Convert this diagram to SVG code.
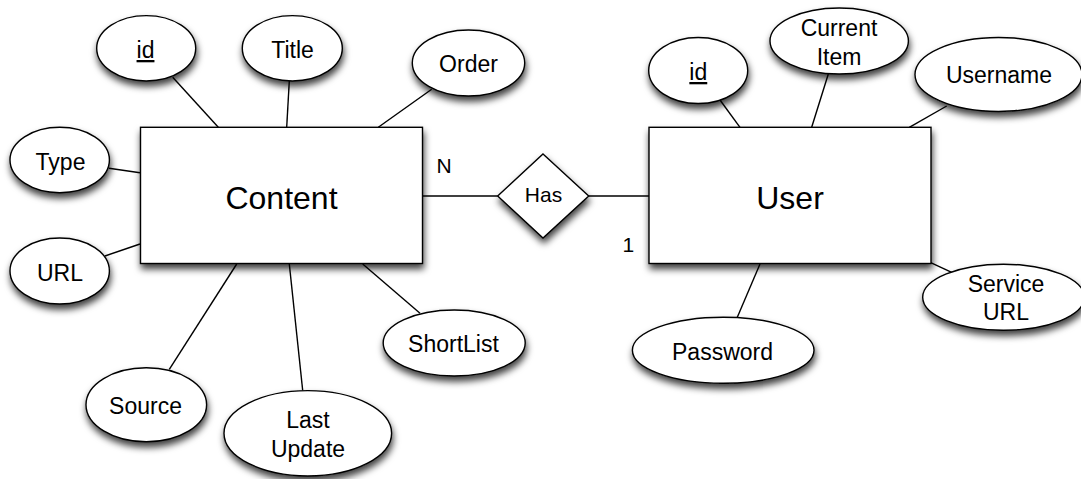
<svg xmlns="http://www.w3.org/2000/svg" width="1081" height="479" viewBox="0 0 1081 479">
<defs>
<filter id="sh" x="-20%" y="-20%" width="150%" height="170%">
<feDropShadow dx="1" dy="5" stdDeviation="3.6" flood-color="#000" flood-opacity="0.75"/>
</filter>
<style>
.shape{fill:#fff;stroke:#000;stroke-width:1.4;filter:url(#sh)}
.conn line{stroke:#000;stroke-width:1.4}
text{font-family:"Liberation Sans",Arial,Helvetica,sans-serif;fill:#000;text-anchor:middle}
.attr{font-size:23px}
.ent{font-size:32px}
.rel{font-size:21px}
.card{font-size:21px;text-anchor:start}
.key{text-decoration:underline}
</style>
</defs>
<rect width="1081" height="479" fill="#fff"/>
<g id="connectors" class="conn">
<line x1="172.7" y1="77.3" x2="218.3" y2="127.3"/>
<line x1="289.3" y1="81" x2="286.7" y2="127.3"/>
<line x1="431.7" y1="89.3" x2="378.3" y2="127.3"/>
<line x1="109" y1="168.3" x2="140" y2="172.7"/>
<line x1="105" y1="256" x2="140" y2="244"/>
<line x1="169.3" y1="369.3" x2="236.7" y2="264"/>
<line x1="302.7" y1="390.5" x2="289.3" y2="264"/>
<line x1="420" y1="313.3" x2="362.7" y2="264"/>
<line x1="422" y1="196" x2="497.7" y2="196"/>
<line x1="588.7" y1="196" x2="649" y2="196"/>
<line x1="720" y1="100" x2="740" y2="127.3"/>
<line x1="828.3" y1="74" x2="811.7" y2="127.3"/>
<line x1="946.7" y1="106" x2="909.3" y2="127.3"/>
<line x1="760" y1="264" x2="737.3" y2="317.3"/>
<line x1="930.7" y1="262.7" x2="951.7" y2="272.3"/>
</g>
<g id="content">
<rect class="shape" x="140.5" y="127.3" width="282" height="136.2"/>
<text class="ent" x="281.5" y="208.5">Content</text>
</g>
<g id="user">
<rect class="shape" x="649" y="127.3" width="282" height="136.2"/>
<text class="ent" x="790" y="208.5">User</text>
</g>
<g id="has">
<polygon class="shape" points="543,154 588.7,196 543,238 497.7,196"/>
<text class="rel" x="543.5" y="201.5">Has</text>
</g>
<g id="card-n"><text class="card" x="436.5" y="172.5">N</text></g>
<g id="card-1"><text class="card" x="622.5" y="251.5">1</text></g>
<g id="content-id">
<ellipse class="shape" cx="146.2" cy="48.3" rx="49.5" ry="32.7"/>
<text class="attr key" x="145.5" y="58">id</text>
</g>
<g id="content-title">
<ellipse class="shape" cx="292.3" cy="48.3" rx="50" ry="32.7"/>
<text class="attr" x="292.5" y="58">Title</text>
</g>
<g id="content-order">
<ellipse class="shape" cx="468.5" cy="63" rx="56.2" ry="33"/>
<text class="attr" x="468.5" y="71.5">Order</text>
</g>
<g id="content-type">
<ellipse class="shape" cx="59.7" cy="160" rx="49.7" ry="32.7"/>
<text class="attr" x="60.5" y="169.5">Type</text>
</g>
<g id="content-url">
<ellipse class="shape" cx="59.7" cy="271" rx="49.7" ry="33"/>
<text class="attr" x="60" y="281">URL</text>
</g>
<g id="content-source">
<ellipse class="shape" cx="146.3" cy="404.7" rx="60.3" ry="37"/>
<text class="attr" x="145.5" y="413.5">Source</text>
</g>
<g id="content-lastupdate">
<ellipse class="shape" cx="307.8" cy="433.3" rx="83.8" ry="42.7"/>
<text class="attr" x="308" y="428.3">Last</text>
<text class="attr" x="308" y="457.3">Update</text>
</g>
<g id="content-shortlist">
<ellipse class="shape" cx="454.2" cy="343" rx="71" ry="33"/>
<text class="attr" x="453.5" y="351.5">ShortList</text>
</g>
<g id="user-id">
<ellipse class="shape" cx="698.2" cy="70.5" rx="49.5" ry="33"/>
<text class="attr key" x="698.3" y="80">id</text>
</g>
<g id="user-currentitem">
<ellipse class="shape" cx="839.2" cy="41" rx="69.2" ry="33"/>
<text class="attr" x="839" y="36">Current</text>
<text class="attr" x="839" y="64.5">Item</text>
</g>
<g id="user-username">
<ellipse class="shape" cx="998.5" cy="74.5" rx="83.5" ry="37"/>
<text class="attr" x="999" y="83">Username</text>
</g>
<g id="user-password">
<ellipse class="shape" cx="723.2" cy="350.3" rx="90.8" ry="33"/>
<text class="attr" x="722.5" y="359.5">Password</text>
</g>
<g id="user-serviceurl">
<ellipse class="shape" cx="1003.5" cy="297.2" rx="80.8" ry="33"/>
<text class="attr" x="1006" y="291.5">Service</text>
<text class="attr" x="1006" y="320">URL</text>
</g>
</svg>
